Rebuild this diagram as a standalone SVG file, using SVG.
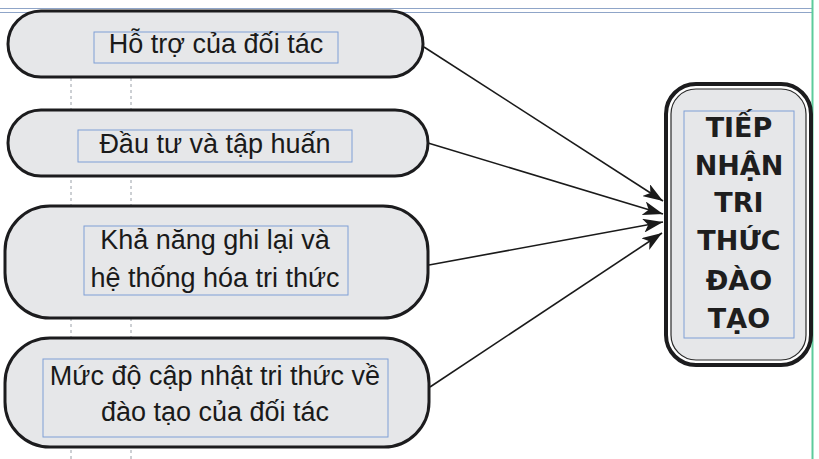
<svg xmlns="http://www.w3.org/2000/svg" width="819" height="459" viewBox="0 0 819 459">
<defs>
<style>
.pill{fill:#e6e7e9;stroke:#1c1c1e;stroke-width:3}
.tb{fill:none;stroke:#7f9fd6;stroke-width:1}
.t{font-family:"Liberation Sans",Arial,sans-serif;font-size:27px;fill:#1a1a1a;text-anchor:middle}
.bt{font-family:"DejaVu Sans",sans-serif;font-weight:bold;font-size:27px;fill:#1e1e1e;text-anchor:middle}
.guide{stroke:#9aa0a8;stroke-width:1;stroke-dasharray:3 3}
.conn{stroke:#1a1a1a;stroke-width:1.6;fill:none;marker-end:url(#ah)}
</style>
<marker id="ah" viewBox="0 0 20 14" refX="20" refY="7" markerWidth="20" markerHeight="14" markerUnits="userSpaceOnUse" orient="auto">
<path d="M0,0 L20,7 L0,14 L5,7 Z" fill="#1a1a1a"/>
</marker>
</defs>
<rect width="819" height="459" fill="#ffffff"/>
<g id="guides">
<line x1="0" y1="8.5" x2="812" y2="8.5" stroke="#8fa5c8" stroke-width="1"/>
<line x1="0" y1="12.5" x2="812" y2="12.5" stroke="#8fa5c8" stroke-width="1"/>
<line x1="812.5" y1="0" x2="812.5" y2="459" stroke="#5ccb9c" stroke-width="2"/>
<line class="guide" x1="71" y1="12" x2="71" y2="459"/>
<line class="guide" x1="131" y1="12" x2="131" y2="459"/>
</g>
<g id="connectors">
<line class="conn" x1="424" y1="47" x2="663" y2="201"/>
<line class="conn" x1="428" y1="143" x2="663" y2="214"/>
<line class="conn" x1="429" y1="265" x2="663" y2="222"/>
<line class="conn" x1="430" y1="387" x2="662" y2="233"/>
</g>
<g id="node1">
<rect class="pill" x="8" y="11" width="415" height="66" rx="33"/>
<rect class="tb" x="94" y="32" width="244" height="31"/>
<text class="t" x="216" y="53">Hỗ trợ của đối tác</text>
</g>
<g id="node2">
<rect class="pill" x="8" y="110" width="420" height="66" rx="33"/>
<rect class="tb" x="78" y="130" width="274" height="32"/>
<text class="t" x="215" y="153">Đầu tư và tập huấn</text>
</g>
<g id="node3">
<rect class="pill" x="5" y="206" width="423" height="112" rx="45"/>
<rect class="tb" x="84" y="226" width="264" height="69"/>
<text class="t" x="215" y="249">Khả năng ghi lại và</text>
<text class="t" x="215" y="287">hệ thống hóa tri thức</text>
</g>
<g id="node4">
<rect class="pill" x="5" y="338" width="424" height="109" rx="45"/>
<rect class="tb" x="43" y="359" width="345" height="78"/>
<text class="t" x="215" y="385">Mức độ cập nhật tri thức về</text>
<text class="t" x="215" y="421">đào tạo của đối tác</text>
</g>
<g id="target">
<rect x="666" y="84" width="145" height="281" rx="30" fill="#ffffff" stroke="#1c1c1e" stroke-width="4"/>
<rect x="671" y="89" width="135" height="271" rx="25" fill="#e6e7e9" stroke="#2a2a2a" stroke-width="1.2"/>
<rect class="tb" x="684" y="111" width="110" height="227"/>
<text class="bt" x="739" y="137">TIẾP</text>
<text class="bt" x="739" y="175">NHẬN</text>
<text class="bt" x="739" y="212">TRI</text>
<text class="bt" x="739" y="250">THỨC</text>
<text class="bt" x="739" y="290">ĐÀO</text>
<text class="bt" x="739" y="328">TẠO</text>
</g>
</svg>
